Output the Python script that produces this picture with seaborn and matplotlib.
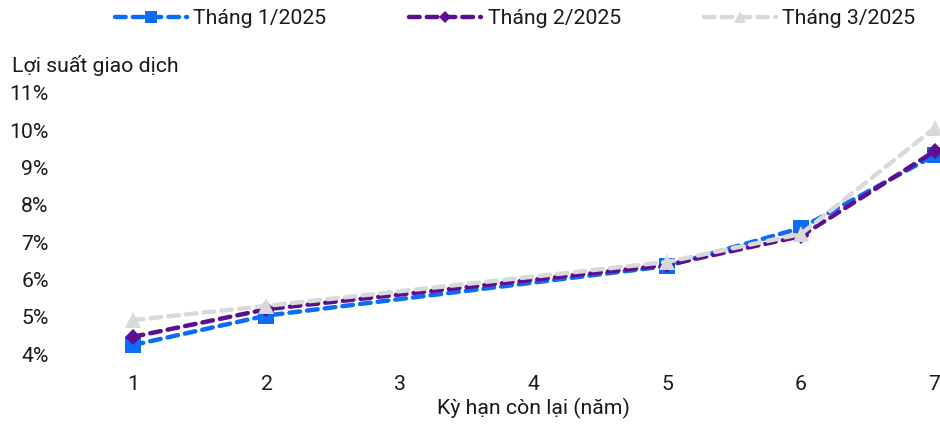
import matplotlib
matplotlib.use("Agg")
import matplotlib.pyplot as plt
import seaborn as sns
import pandas as pd

# Remaining term (years) and transaction yields (%) per month
terms = [1, 2, 5, 6, 7]
thang1 = [4.24, 5.03, 6.36, 7.38, 9.33]
thang2 = [4.46, 5.20, 6.39, 7.16, 9.44]
thang3 = [4.91, 5.29, 6.47, 7.22, 10.06]
series_names = ["Tháng 1/2025", "Tháng 2/2025", "Tháng 3/2025"]
x_ticks = [1, 2, 3, 4, 5, 6, 7]
y_ticks = [4, 5, 6, 7, 8, 9, 10, 11]

df = pd.DataFrame({
    "term": terms * 3,
    "yield": thang1 + thang2 + thang3,
    "series": [series_names[0]] * 5 + [series_names[1]] * 5 + [series_names[2]] * 5,
})

sns.set_theme(style="white")
plt.rcParams["font.family"] = ["Roboto", "DejaVu Sans"]
FS = 15.3
TXT = "#1a1a1a"

fig = plt.figure(figsize=(9.4, 4.25), dpi=100)
ax = fig.add_axes([66 / 940, 1 - 354 / 425, (940 - 66) / 940, (354 - 93) / 425])

colors = ["#0A6CF7", "#5C0F8F", "#D9D9D9"]
markers = ["s", "D", "^"]
msizes = [11, 8, 12]
order = [2, 1, 0]  # lighter series underneath
for i in order:
    name = series_names[i]
    sub = df[df["series"] == name]
    sns.lineplot(data=sub, x="term", y="yield", ax=ax, color=colors[i],
                 marker=markers[i], markersize=msizes[i], markeredgewidth=0,
                 linewidth=3.2, dashes=False, label=name, clip_on=False)
for i, line in zip(order, ax.get_lines()):
    line.set_linestyle((0, (2.4, 1.6)))
    line.set_dash_capstyle("round")
    line.set_zorder(3 + i)

xmin, xmax = 0.5, 7.04
ax.set_xlim(xmin, xmax)
ax.set_ylim(4, 11)
ax.set_xticks(x_ticks)
ax.set_yticks(y_ticks)
ax.set_yticklabels([f"{v}%" for v in y_ticks])
ax.tick_params(axis="both", length=0, labelsize=FS, colors=TXT)
ax.tick_params(axis="x", pad=15)
ax.tick_params(axis="y", pad=12.5)
for s in ax.spines.values():
    s.set_visible(False)
ax.set_ylabel("")
ax.set_xlabel("Kỳ hạn còn lại (năm)", fontsize=FS, color=TXT)
ax.xaxis.set_label_coords((4 - xmin) / (xmax - xmin), -0.17)
fig.text(12 / 940, 1 - 65 / 425, "Lợi suất giao dịch", fontsize=FS,
         color=TXT, va="center", ha="left")

handles, labels = ax.get_legend_handles_labels()
hmap = dict(zip(labels, handles))
ax.legend([hmap[n] for n in series_names], series_names,
          loc="center", bbox_to_anchor=(0.548, 1 - 19 / 425),
          bbox_transform=fig.transFigure, ncol=3, frameon=False,
          fontsize=FS, handlelength=3.4, columnspacing=3.9,
          handletextpad=0.3, markerscale=0.75, labelcolor=TXT)

fig.savefig("out.png", dpi=100)
